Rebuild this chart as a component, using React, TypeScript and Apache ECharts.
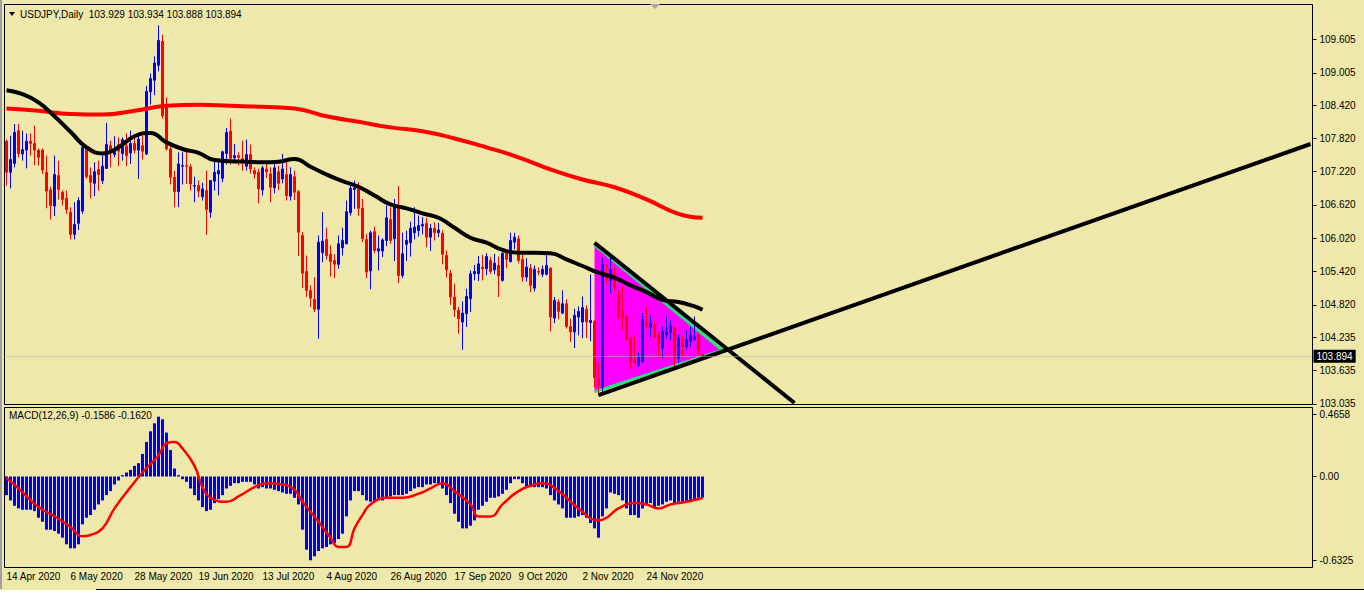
import React, { useEffect, useRef } from "react";
import * as echarts from "echarts";

// ---------- DATA ----------
const opens = [
107.77,107.21,107.37,107.96,107.54,107.61,107.77,107.73,107.61,107.61,
107.21,106.89,106.60,107.15,106.85,106.74,106.49,106.09,106.29,106.51,
107.64,107.15,107.01,107.26,107.06,107.28,107.69,107.53,107.71,107.55,
107.68,107.56,107.73,107.61,107.69,107.54,108.66,108.87,109.14,109.57,
108.37,107.63,107.12,106.86,107.32,107.33,107.31,106.96,106.97,106.77,
106.88,106.49,107.05,107.18,107.10,107.55,107.95,107.47,107.51,107.46,
107.32,107.53,107.24,107.21,106.89,107.27,107.18,106.93,107.22,107.09,
107.17,106.78,107.13,106.86,106.07,105.42,105.08,104.92,104.74,105.76,
106.00,105.73,105.62,105.55,105.85,105.92,106.48,106.90,106.91,106.56,
106.00,105.43,106.14,105.79,105.79,105.98,106.36,106.01,106.58,105.35,
105.91,105.94,106.12,106.16,106.24,106.29,106.04,106.20,106.12,106.11,
105.71,105.39,104.96,104.72,104.51,104.66,104.93,105.38,105.38,105.50,
105.47,105.62,105.45,105.53,105.26,105.75,105.60,105.95,106.01,105.64,
105.32,105.48,105.12,105.42,105.37,105.37,105.48,104.58,104.87,104.67,
104.84,104.43,104.33,104.60,104.51,104.74,104.50,104.52,103.47,103.33,
105.38,105.26,105.35,104.99,104.72,104.61,104.22,103.82,103.72,103.80,
104.51,104.42,104.46,104.27,104.04,104.28,104.32,104.41,103.86,104.12,
104.06,104.16,104.19,104.27,103.929
];
const highs = [
107.80,107.87,108.08,108.08,107.96,107.91,107.91,108.05,107.64,107.64,
107.51,106.95,107.51,107.42,106.88,106.88,106.58,106.67,106.76,107.72,
107.68,107.30,107.39,107.42,107.51,108.10,107.78,107.86,107.84,107.84,
107.91,107.96,107.90,107.91,107.87,108.77,108.99,109.30,109.86,109.69,
108.56,107.69,107.24,107.57,107.57,107.60,107.36,107.13,107.06,107.02,
107.24,107.07,107.42,107.42,107.60,108.01,108.18,107.72,107.57,107.78,
107.80,107.71,107.30,107.27,107.33,107.36,107.30,107.36,107.33,107.54,
107.41,107.30,107.24,106.89,106.13,105.71,105.17,105.32,106.07,106.49,
106.21,105.89,105.73,106.07,106.21,106.70,107.00,107.06,107.03,106.73,
106.10,106.16,106.23,106.07,106.02,106.61,106.58,106.73,106.96,106.12,
106.16,106.32,106.58,106.43,106.40,106.39,106.28,106.31,106.30,106.16,
105.80,105.45,105.20,104.78,104.88,105.11,105.44,105.54,105.70,105.72,
105.75,105.68,105.74,105.69,105.77,105.78,106.12,106.12,106.07,105.74,
105.66,105.56,105.53,105.50,105.53,105.72,105.50,104.96,104.92,105.08,
104.92,104.57,104.75,104.79,104.97,104.81,105.37,104.55,103.78,105.68,
105.56,105.71,105.50,105.08,105.15,104.63,104.25,104.24,103.96,104.67,
104.78,104.63,104.51,104.33,104.43,104.61,104.54,104.43,104.28,104.24,
104.36,104.43,104.61,104.31,103.934
];
const lows = [
106.97,106.92,107.30,107.48,107.42,107.28,107.51,107.34,107.33,107.18,
106.56,106.36,106.42,106.72,106.61,106.46,106.00,106.00,106.17,106.46,
107.09,106.74,106.78,106.88,107.00,107.27,107.30,107.48,107.32,107.42,
107.32,107.36,107.55,107.09,107.44,107.52,108.43,108.60,109.03,108.18,
107.60,106.99,106.58,106.58,106.99,107.00,106.88,106.67,106.76,106.70,
106.08,106.39,106.88,106.79,107.03,107.35,107.35,107.39,107.33,107.24,
107.24,107.19,107.10,106.65,106.79,107.11,106.67,106.83,106.89,107.01,
106.70,106.70,106.71,105.70,105.12,104.96,104.78,104.69,104.21,105.59,
105.64,105.33,105.30,105.47,105.71,105.91,106.43,106.55,106.43,105.95,
105.30,105.10,105.75,105.44,105.68,105.88,105.92,105.61,105.21,105.30,
105.61,105.69,106.00,106.05,106.09,105.86,105.79,105.98,106.04,105.55,
105.31,104.82,104.60,104.30,104.01,104.42,104.69,105.26,105.25,105.26,
105.35,105.38,105.37,104.96,105.24,105.48,105.58,105.82,105.57,105.24,
105.24,105.05,105.06,105.35,105.32,105.35,104.34,104.49,104.56,104.65,
104.39,104.15,104.04,104.27,104.22,104.22,104.16,103.33,103.18,103.24,
105.20,105.02,105.08,104.57,104.37,104.18,103.66,103.75,103.70,103.77,
104.39,104.24,104.22,103.91,103.86,104.21,104.18,103.69,103.77,103.88,
104.01,104.06,104.17,103.91,103.888
];
const closes = [
107.21,107.44,107.93,107.55,107.62,107.77,107.73,107.61,107.48,107.25,
106.87,106.61,107.17,106.90,106.72,106.54,106.09,106.27,106.70,107.66,
107.13,107.03,107.22,107.17,107.32,107.71,107.59,107.62,107.59,107.80,
107.51,107.73,107.61,107.81,107.59,108.67,108.90,109.18,109.59,108.23,
107.63,107.12,106.86,107.36,107.33,107.32,107.00,106.97,106.87,106.91,
106.54,107.06,107.21,107.24,107.58,107.93,107.46,107.51,107.48,107.43,
107.53,107.27,107.18,106.91,107.29,107.22,106.94,107.29,107.01,107.27,
106.79,107.17,106.85,106.13,105.39,105.08,104.94,104.74,105.95,105.97,
105.71,105.60,105.55,105.92,105.98,106.50,106.92,106.93,106.56,106.01,
105.41,106.12,105.80,105.83,105.99,106.39,105.98,106.58,105.35,105.74,
105.98,106.20,106.22,106.25,106.27,106.04,106.20,106.12,106.17,105.73,
105.45,104.96,104.73,104.57,104.67,104.97,105.38,105.42,105.56,105.47,
105.69,105.42,105.57,105.34,105.75,105.64,105.98,106.04,105.62,105.32,
105.50,105.17,105.46,105.41,105.46,105.53,104.60,104.90,104.70,104.84,
104.43,104.33,104.63,104.70,104.77,104.51,104.54,103.51,103.37,105.55,
105.29,105.45,105.14,104.61,104.58,104.19,103.80,103.77,103.87,104.55,
104.45,104.48,104.24,104.12,104.34,104.33,104.43,103.86,104.22,104.06,
104.19,104.27,104.23,104.01,103.894
];

// moving averages (bar index, value)
const maBlackIdx = [0,4,8,12,16,20,24,28,32,36,40,44,48,52,56,60,64,68,72,76,80,84,88,92,96,100,104,108,112,116,120,124,128,132,136,140,144,148,152,156,160,164,168,172,174];
const maBlackVal = [108.69,108.62,108.47,108.22,107.94,107.66,107.55,107.66,107.86,107.92,107.75,107.63,107.56,107.43,107.41,107.40,107.39,107.40,107.45,107.31,107.17,107.05,106.95,106.79,106.63,106.56,106.47,106.39,106.21,106.03,105.94,105.81,105.76,105.76,105.75,105.64,105.52,105.40,105.31,105.17,105.05,104.91,104.87,104.79,104.73];
const maRedIdx = [0,8,16,24,32,40,48,56,64,72,80,88,96,104,112,120,128,136,144,152,160,168,174];
const maRedVal = [108.36,108.32,108.26,108.25,108.32,108.41,108.43,108.41,108.39,108.36,108.22,108.12,108.02,107.95,107.82,107.66,107.48,107.26,107.08,106.94,106.72,106.46,106.39];

// MACD(12,26,9)
const macdMain = [
-0.14,-0.18,-0.22,-0.24,-0.25,-0.25,-0.25,-0.26,-0.31,-0.34,
-0.40,-0.40,-0.41,-0.43,-0.46,-0.51,-0.54,-0.54,-0.51,-0.36,
-0.31,-0.29,-0.25,-0.21,-0.18,-0.14,-0.11,-0.06,-0.03,0.01,
0.03,0.05,0.08,0.10,0.17,0.26,0.34,0.40,0.45,0.43,
0.33,0.20,0.06,0.01,-0.02,-0.04,-0.09,-0.14,-0.18,-0.23,
-0.26,-0.25,-0.20,-0.17,-0.14,-0.09,-0.07,-0.05,-0.05,-0.04,
-0.04,-0.04,-0.06,-0.09,-0.08,-0.09,-0.09,-0.10,-0.11,-0.12,
-0.13,-0.13,-0.16,-0.21,-0.40,-0.55,-0.63,-0.60,-0.56,-0.54,
-0.53,-0.51,-0.50,-0.47,-0.43,-0.30,-0.18,-0.11,-0.11,-0.14,
-0.18,-0.19,-0.19,-0.18,-0.18,-0.16,-0.15,-0.14,-0.14,-0.14,
-0.13,-0.11,-0.09,-0.08,-0.08,-0.06,-0.06,-0.05,-0.06,-0.09,
-0.14,-0.20,-0.28,-0.34,-0.39,-0.39,-0.37,-0.33,-0.25,-0.22,
-0.19,-0.16,-0.16,-0.15,-0.13,-0.10,-0.05,-0.02,-0.02,-0.05,
-0.08,-0.08,-0.08,-0.08,-0.08,-0.09,-0.14,-0.18,-0.21,-0.24,
-0.31,-0.31,-0.31,-0.30,-0.29,-0.31,-0.35,-0.39,-0.46,-0.30,
-0.24,-0.12,-0.13,-0.14,-0.18,-0.24,-0.29,-0.29,-0.31,-0.24,
-0.21,-0.20,-0.23,-0.22,-0.21,-0.19,-0.18,-0.20,-0.19,-0.19,
-0.19,-0.18,-0.18,-0.16,-0.1586
];
const macdSigIdx = [0,3,8,12,16,19,21,24,27,31,34,38,40,42,44,47,49,51,55,58,62,65,69,72,74,78,81,83,85,87,89,91,95,99,103,106,109,112,116,118,121,124,128,132,134,138,143,148,150,153,157,160,163,166,170,174];
const macdSigVal = [-0.01,-0.09,-0.23,-0.30,-0.38,-0.45,-0.44,-0.39,-0.24,-0.08,0.03,0.16,0.25,0.26,0.21,0.08,-0.08,-0.16,-0.19,-0.15,-0.08,-0.05,-0.06,-0.10,-0.19,-0.34,-0.46,-0.53,-0.53,-0.39,-0.29,-0.21,-0.16,-0.16,-0.13,-0.09,-0.05,-0.11,-0.21,-0.30,-0.30,-0.21,-0.11,-0.06,-0.05,-0.11,-0.24,-0.33,-0.31,-0.24,-0.20,-0.21,-0.24,-0.21,-0.19,-0.162];

// drawn objects (bar index, price)
const triangleIdx = [146.75, 146.75, 178.5];
const trianglePrice = [105.90, 103.25, 104.0];
const downTrendIdx = [147, 197];
const downTrendPrice = [105.94, 103.05];
const upTrendIdx = [148, 326];
const upTrendPrice = [103.19, 107.72];

const lastPrice = 103.894;
const priceTicks = [109.605, 109.005, 108.42, 107.82, 107.22, 106.62, 106.02, 105.42, 104.82, 104.235, 103.635, 103.035];
const macdTicks = [0.4658, 0, -0.6325];
const dateTicks = ["14 Apr 2020", "6 May 2020", "28 May 2020", "19 Jun 2020", "13 Jul 2020", "4 Aug 2020", "26 Aug 2020", "17 Sep 2020", "9 Oct 2020", "2 Nov 2020", "24 Nov 2020"];
const titleText = "USDJPY,Daily  103.929 103.934 103.888 103.894";
const macdTitle = "MACD(12,26,9) -0.1586 -0.1620";

const MONTHS = ["Jan","Feb","Mar","Apr","May","Jun","Jul","Aug","Sep","Oct","Nov","Dec"];
const BAR_SLOTS = 327;

function buildCategories(): string[] {
  const out: string[] = [];
  let t = Date.UTC(2020, 3, 14);
  while (out.length < BAR_SLOTS) {
    const d = new Date(t);
    const wd = d.getUTCDay();
    if (wd !== 0 && wd !== 6) out.push(`${d.getUTCDate()} ${MONTHS[d.getUTCMonth()]} ${d.getUTCFullYear()}`);
    t += 86400000;
  }
  return out;
}

const FONT = "Liberation Sans";
const BG = "#EEE8AA";

export default function App() {
  const ref = useRef<HTMLDivElement>(null);
  useEffect(() => {
    if (!ref.current) return;
    const chart = echarts.init(ref.current, null, { renderer: "svg" });
    const cats = buildCategories();
    const candles = opens.map((o, i) => [o, closes[i], lows[i], highs[i]]);
    const pair = (a: number[], b: number[]) => a.map((x, k) => [x, b[k]]);

    const option: any = {
      animation: false,
      backgroundColor: BG,
      grid: [
        { left: 4.5, top: 4.5, width: 1308, height: 400, show: true, borderColor: "#000", borderWidth: 1, backgroundColor: "transparent" },
        { left: 4.5, top: 407.5, width: 1308, height: 160, show: true, borderColor: "#000", borderWidth: 1, backgroundColor: "transparent" },
      ],
      xAxis: [
        { type: "category", gridIndex: 0, data: cats, show: false, boundaryGap: true },
        {
          type: "category", gridIndex: 1, data: cats, boundaryGap: true,
          axisLine: { show: false }, axisTick: { show: false }, splitLine: { show: false },
          axisLabel: {
            interval: (_i: number, v: string) => dateTicks.includes(v),
            color: "#000", fontSize: 10, fontFamily: FONT, align: "left", margin: 4,
          },
        },
      ],
      yAxis: [
        {
          type: "value", gridIndex: 0, position: "right", min: 103.022, max: 110.236,
          splitLine: { show: false }, axisLine: { show: false },
          axisTick: { show: true, customValues: priceTicks, length: 4, lineStyle: { color: "#000" } },
          axisLabel: { customValues: priceTicks, formatter: (v: number) => v.toFixed(3), color: "#000", fontSize: 10, fontFamily: FONT, margin: 7 },
        },
        {
          type: "value", gridIndex: 1, position: "right", min: -0.6842, max: 0.5188,
          splitLine: { show: false }, axisLine: { show: false },
          axisTick: { show: true, customValues: macdTicks, length: 4, lineStyle: { color: "#000" } },
          axisLabel: { customValues: macdTicks, formatter: (v: number) => (v === 0 ? "0.00" : String(v)), color: "#000", fontSize: 10, fontFamily: FONT, margin: 7 },
        },
      ],
      series: [
        {
          type: "custom", xAxisIndex: 0, yAxisIndex: 0, z: 1, silent: true,
          data: [[triangleIdx[0], trianglePrice[0]]],
          renderItem: (_p: any, api: any) => {
            const pts = triangleIdx.map((x, k) => api.coord([x, trianglePrice[k]]));
            return {
              type: "group",
              children: [
                { type: "polygon", shape: { points: pts }, style: { fill: "#FF00FF" } },
                { type: "polyline", shape: { points: [pts[0], pts[2], pts[1]] }, style: { stroke: "#1EE87A", lineWidth: 3, fill: null } },
              ],
            };
          },
        },
        {
          type: "candlestick", xAxisIndex: 0, yAxisIndex: 0, z: 2, barWidth: 2,
          data: candles,
          itemStyle: { color: "#0000FF", color0: "#FF0000", borderColor: "#0000FF", borderColor0: "#FF0000", borderWidth: 1 },
          markLine: {
            silent: true, symbol: ["none", "none"],
            lineStyle: { color: "#B0B0B0", type: "dotted", width: 1 },
            data: [{ yAxis: lastPrice }],
            label: {
              show: true, position: "end", distance: 1, formatter: () => lastPrice.toFixed(3),
              backgroundColor: "#000", color: "#fff", fontSize: 10, fontFamily: FONT, padding: [2, 3, 1, 3],
            },
          },
        },
        {
          type: "line", xAxisIndex: 0, yAxisIndex: 0, z: 3, symbol: "none", smooth: true,
          data: pair(maRedIdx, maRedVal), lineStyle: { color: "#FF0000", width: 4 },
        },
        {
          type: "line", xAxisIndex: 0, yAxisIndex: 0, z: 3, symbol: "none", smooth: true,
          data: pair(maBlackIdx, maBlackVal), lineStyle: { color: "#000000", width: 4 },
        },
        {
          type: "line", xAxisIndex: 0, yAxisIndex: 0, z: 4, symbol: "none",
          data: pair(downTrendIdx, downTrendPrice), lineStyle: { color: "#000000", width: 4 },
        },
        {
          type: "line", xAxisIndex: 0, yAxisIndex: 0, z: 4, symbol: "none",
          data: pair(upTrendIdx, upTrendPrice), lineStyle: { color: "#000000", width: 4 },
        },
        {
          type: "bar", xAxisIndex: 1, yAxisIndex: 1, z: 2, barWidth: 3,
          data: macdMain, itemStyle: { color: "#0000FF" },
        },
        {
          type: "line", xAxisIndex: 1, yAxisIndex: 1, z: 3, symbol: "none", smooth: true,
          data: pair(macdSigIdx, macdSigVal), lineStyle: { color: "#FF0000", width: 2.5 },
        },
      ],
      graphic: [
        { type: "rect", shape: { x: 0, y: 0, width: 2, height: 589 }, style: { fill: "#A0A0A0" } },
        { type: "polygon", shape: { points: [[9, 12], [15, 12], [12, 16]] }, style: { fill: "#000" } },
        { type: "text", x: 20, y: 14, style: { text: titleText, fill: "#000", font: `10px "${FONT}"`, verticalAlign: "middle" } },
        { type: "text", x: 9, y: 415, style: { text: macdTitle, fill: "#000", font: `10px "${FONT}"`, verticalAlign: "middle" } },
        { type: "polygon", shape: { points: [[650, 4], [660, 4], [655, 9]] }, style: { fill: "#A8A8A8" } },
        { type: "rect", shape: { x: 0, y: 590, width: 1364, height: 12 }, style: { fill: "#FFFFFF" } },
        { type: "rect", shape: { x: 96, y: 589, width: 1268, height: 1 }, style: { fill: "#000" } },
      ],
    };
    chart.setOption(option);
    return () => chart.dispose();
  }, []);
  return <div ref={ref} style={{ position: "fixed", left: 0, top: 0, width: 1364, height: 602 }} />;
}
